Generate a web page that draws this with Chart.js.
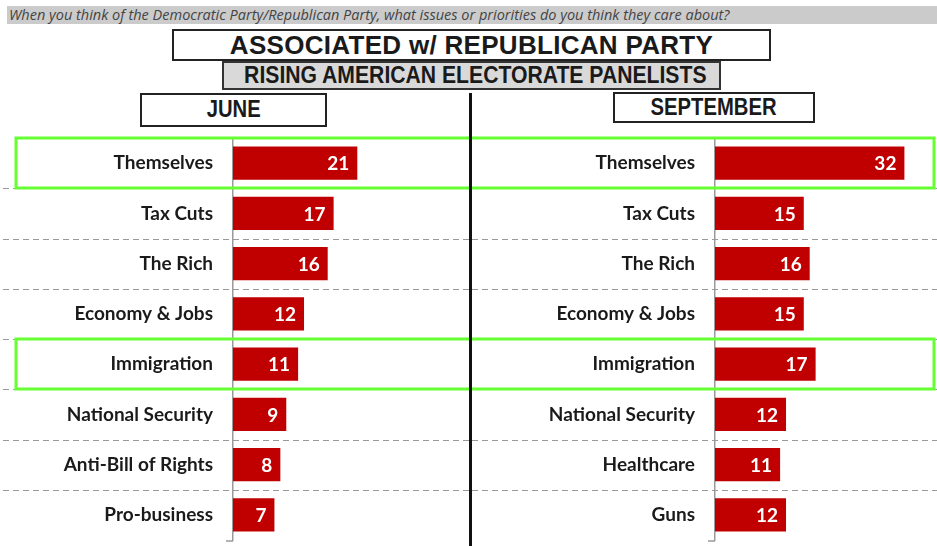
<!DOCTYPE html>
<html>
<head>
<meta charset="utf-8">
<script src="https://cdn.jsdelivr.net/npm/chart.js@4.4.1/dist/chart.umd.min.js"></script>
<style>
  body { margin: 0; width: 937px; height: 546px; background: #fff; position: relative; overflow: hidden; }
  .box { position: absolute; box-sizing: border-box; text-align: center; font-family: "Liberation Sans", Arial, sans-serif; font-weight: bold; color: #1a1a1a; white-space: nowrap; }
  .box span { display: inline-block; }
  #question { left: 7px; top: 6px; width: 930px; height: 18px; background: #cbcbcb; font-family: "Open Sans", sans-serif; font-weight: normal; font-style: italic; font-size: 14.5px; line-height: 18px; color: #444; text-align: left; padding-left: 2px; }
  #title { left: 172px; top: 29px; width: 599px; height: 32px; border: 2px solid #222; font-size: 26px; line-height: 28px; letter-spacing: 0.3px; }
  #sub { left: 222px; top: 61px; width: 499px; height: 29px; border: 2px solid #333; background: #d9d9d9; font-size: 23px; line-height: 25px; }
  #sub span { transform: scaleX(0.92); }
  #june { left: 140px; top: 93px; width: 187px; height: 34px; border: 2px solid #222; font-size: 23px; line-height: 29px; }
  #june span { transform: scaleX(0.88); }
  #sept { left: 613px; top: 92px; width: 202px; height: 31px; border: 2px solid #222; font-size: 23px; line-height: 26px; }
  #sept span { transform: scaleX(0.88); }
  #divider { position: absolute; left: 469px; top: 93px; width: 3px; height: 453px; background: #111; }
  .panel { position: absolute; top: 130px; height: 416px; }
  #leftPanel { left: 0; width: 469px; }
  #rightPanel { left: 472px; width: 465px; }
</style>
</head>
<body>
<div class="box" id="question">When you think of the Democratic Party/Republican Party, what issues or priorities do you think they care about?</div>
<div class="box" id="title">ASSOCIATED w/ REPUBLICAN PARTY</div>
<div class="box" id="sub"><span>RISING AMERICAN ELECTORATE PANELISTS</span></div>
<div class="box" id="june"><span>JUNE</span></div>
<div class="box" id="sept"><span>SEPTEMBER</span></div>
<div class="panel" id="leftPanel"><canvas id="juneChart"></canvas></div>
<div class="panel" id="rightPanel"><canvas id="septChart"></canvas></div>
<div id="divider"></div>
<script>
const juneLabels = ['Themselves', 'Tax Cuts', 'The Rich', 'Economy & Jobs', 'Immigration', 'National Security', 'Anti-Bill of Rights', 'Pro-business'];
const juneValues = [21, 17, 16, 12, 11, 9, 8, 7];
const septLabels = ['Themselves', 'Tax Cuts', 'The Rich', 'Economy & Jobs', 'Immigration', 'National Security', 'Healthcare', 'Guns'];
const septValues = [32, 15, 16, 15, 17, 12, 11, 12];
const highlightRows = ['Themselves', 'Immigration'];

const barColor = '#c00000';
const labelFont = '"Lato", "Open Sans", sans-serif';

// dashed row separators, green highlight boxes and value labels
const decor = {
    id: 'decor',
    beforeDatasetsDraw(chart, args, opts) {
        const y = chart.scales.y;
        const ctx = chart.ctx;
        const band = y.getPixelForValue(1) - y.getPixelForValue(0);
        ctx.save();
        ctx.strokeStyle = '#9a9a9a';
        ctx.lineWidth = 1;
        ctx.setLineDash([6, 4]);
        for (let i = 0; i < y.ticks.length - 1; i++) {
            const yy = Math.round(y.getPixelForValue(i) + band / 2) + 0.5;
            ctx.beginPath();
            ctx.moveTo(opts.lineLeft, yy);
            ctx.lineTo(chart.width, yy);
            ctx.stroke();
        }
        ctx.restore();
    },
    afterDatasetsDraw(chart, args, opts) {
        const y = chart.scales.y;
        const ctx = chart.ctx;
        const band = y.getPixelForValue(1) - y.getPixelForValue(0);
        const meta = chart.getDatasetMeta(0);
        ctx.save();
        // value labels
        ctx.fillStyle = '#fff';
        ctx.font = 'bold 19px ' + labelFont;
        ctx.textAlign = 'right';
        ctx.textBaseline = 'middle';
        meta.data.forEach((bar, i) => {
            ctx.fillText(chart.data.datasets[0].data[i], bar.x - 8, bar.y + 1);
        });
        // axis bottom tick
        ctx.strokeStyle = '#9a9a9a';
        ctx.lineWidth = 1.5;
        ctx.beginPath();
        ctx.moveTo(chart.chartArea.left - 7, chart.chartArea.bottom + 1);
        ctx.lineTo(chart.chartArea.left, chart.chartArea.bottom + 1);
        ctx.stroke();
        // green highlight boxes
        ctx.strokeStyle = '#66ff33';
        ctx.lineWidth = 3;
        chart.data.labels.forEach((lab, i) => {
            if (!highlightRows.includes(lab)) return;
            const c = y.getPixelForValue(i);
            const top = Math.round(c - band / 2);
            const bot = Math.round(c + band / 2);
            ctx.beginPath();
            if (opts.side === 'left') {
                ctx.moveTo(chart.width + 2, top);
                ctx.lineTo(opts.boxLeft, top);
                ctx.lineTo(opts.boxLeft, bot);
                ctx.lineTo(chart.width + 2, bot);
            } else {
                ctx.moveTo(-2, top);
                ctx.lineTo(opts.boxRight, top);
                ctx.lineTo(opts.boxRight, bot);
                ctx.lineTo(-2, bot);
            }
            ctx.stroke();
        });
        ctx.restore();
    }
};

function makeChart(id, labels, values, axisWidth, padRight, decorOpts) {
    return new Chart(document.getElementById(id), {
        type: 'bar',
        data: {
            labels: labels,
            datasets: [{
                data: values,
                backgroundColor: barColor,
                borderWidth: 0,
                categoryPercentage: 1,
                barPercentage: 0.66
            }]
        },
        options: {
            indexAxis: 'y',
            responsive: true,
            maintainAspectRatio: false,
            animation: false,
            layout: { padding: { top: 8, bottom: 6, right: padRight, left: 0 } },
            plugins: {
                legend: { display: false },
                tooltip: { enabled: false },
                decor: decorOpts
            },
            scales: {
                x: {
                    min: 0,
                    max: 37,
                    display: false
                },
                y: {
                    afterFit: (scale) => {
                        scale.width = axisWidth;
                        scale.paddingTop = 0;
                        scale.paddingBottom = 0;
                    },
                    grid: { display: false },
                    border: { display: true, color: '#9a9a9a', width: 1.5 },
                    ticks: {
                        color: '#1a1a1a',
                        padding: 12,
                        font: { family: labelFont, weight: 'bold', size: 19 }
                    }
                }
            }
        },
        plugins: [decor]
    });
}

makeChart('juneChart', juneLabels, juneValues, 233, 17, { side: 'left', lineLeft: 3, boxLeft: 16 });
makeChart('septChart', septLabels, septValues, 243, 3, { side: 'right', lineLeft: 0, boxRight: 462 });
</script>
</body>
</html>
